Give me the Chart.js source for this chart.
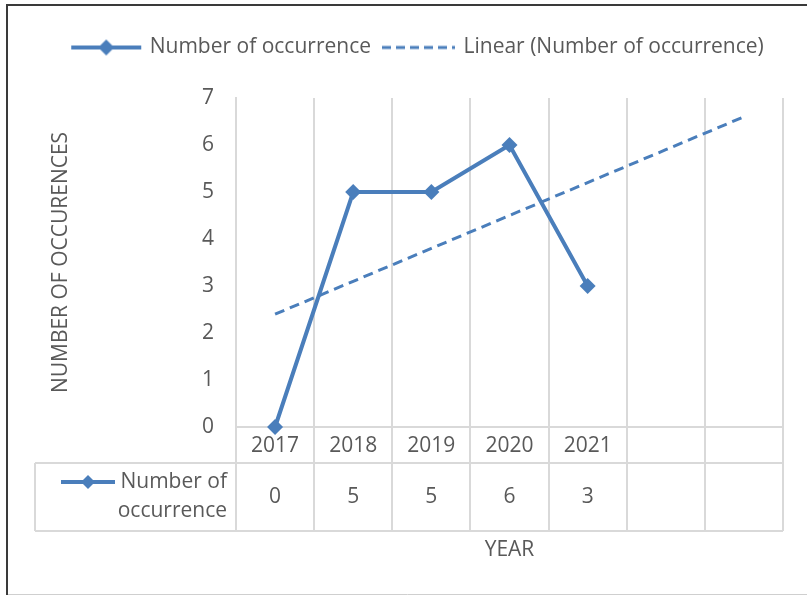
<!DOCTYPE html>
<html lang="en">
<head>
    <meta charset="UTF-8">
    <title>Number of occurrence by year</title>
    <script src="https://cdn.jsdelivr.net/npm/chart.js"></script>
    <style>
        html, body { margin: 0; padding: 0; background: #fff; }
        #wrap { width: 807px; height: 596px; }
    </style>
</head>
<body>
<div id="wrap"><canvas id="chart" width="807" height="596"></canvas></div>

<script>
    // data
    const years = ['2017', '2018', '2019', '2020', '2021', '', ''];
    const occurrences = [0, 5, 5, 6, 3, null, null];
    const trendValues = [2.4, 3.1, 3.8, 4.5, 5.2, 5.9, 6.6];
    const yTicks = [0, 1, 2, 3, 4, 5, 6, 7];
    const seriesName = 'Number of occurrence';
    const trendName = 'Linear (Number of occurrence)';

    const BLUE = '#4a7ebb';
    const TEXT = '#595959';
    const GRID = '#d9d9d9';
    const FONT = "'Open Sans', sans-serif";
    const FSIZE = 21;

    // legend icons (line + diamond, dashed line); drawn towards the right
    // of the canvas so the icon sits close to its text
    function makeIcon(dashed) {
        const c = document.createElement('canvas');
        c.width = 88;
        c.height = 18;
        const g = c.getContext('2d');
        g.strokeStyle = BLUE;
        g.lineWidth = dashed ? 3 : 4;
        if (dashed) g.setLineDash([9, 5]);
        g.beginPath();
        g.moveTo(dashed ? 9 : 12, 9);
        g.lineTo(82, 9);
        g.stroke();
        if (!dashed) {
            g.fillStyle = BLUE;
            g.beginPath();
            g.moveTo(47, 1);
            g.lineTo(55, 9);
            g.lineTo(47, 17);
            g.lineTo(39, 9);
            g.closePath();
            g.fill();
        }
        return c;
    }
    const lineIcon = makeIcon(false);
    const dashIcon = makeIcon(true);

    // small key for the data table
    function makeKey() {
        const c = document.createElement('canvas');
        c.width = 56;
        c.height = 16;
        const g = c.getContext('2d');
        g.strokeStyle = BLUE;
        g.lineWidth = 4;
        g.beginPath();
        g.moveTo(1, 8);
        g.lineTo(55, 8);
        g.stroke();
        g.fillStyle = BLUE;
        g.beginPath();
        g.moveTo(28, 1);
        g.lineTo(35, 8);
        g.lineTo(28, 15);
        g.lineTo(21, 8);
        g.closePath();
        g.fill();
        return c;
    }
    const tableKey = makeKey();

    // frame, data table and extended column borders
    const tablePlugin = {
        id: 'dataTable',
        beforeInit(chart) {
            const fit = chart.legend.fit;
            chart.legend.fit = function () {
                fit.bind(chart.legend)();
                this.height += 30;
            };
        },
        afterDraw(chart) {
            const ctx = chart.ctx;
            const area = chart.chartArea;
            const x = chart.scales.x;
            const labelRowBottom = area.bottom + 36;
            const dataRowBottom = area.bottom + 104;
            const tableLeft = 35;
            const half = (x.getPixelForValue(1) - x.getPixelForValue(0)) / 2;

            ctx.save();
            ctx.strokeStyle = GRID;
            ctx.lineWidth = 2;
            ctx.beginPath();
            // column borders below the plot
            for (let i = 0; i <= years.length; i++) {
                const px = Math.round(x.getPixelForValue(0) - half + i * half * 2);
                ctx.moveTo(px, area.bottom);
                ctx.lineTo(px, dataRowBottom);
            }
            ctx.moveTo(tableLeft, labelRowBottom);
            ctx.lineTo(area.right, labelRowBottom);
            ctx.moveTo(tableLeft, dataRowBottom);
            ctx.lineTo(area.right, dataRowBottom);
            ctx.moveTo(tableLeft, labelRowBottom);
            ctx.lineTo(tableLeft, dataRowBottom);
            ctx.stroke();

            // values row
            ctx.fillStyle = TEXT;
            ctx.font = FSIZE + 'px ' + FONT;
            ctx.textAlign = 'center';
            ctx.textBaseline = 'middle';
            const midY = (labelRowBottom + dataRowBottom) / 2;
            occurrences.forEach((v, i) => {
                if (v === null) return;
                ctx.fillText(String(v), x.getPixelForValue(i), midY);
            });

            // series key in table
            ctx.textAlign = 'right';
            ctx.fillText('Number of', area.left - 9, labelRowBottom + 19);
            ctx.fillText('occurrence', area.left - 9, labelRowBottom + 48);
            ctx.drawImage(tableKey, 60, labelRowBottom + 11);

            // outer frame
            ctx.strokeStyle = '#3a3a3a';
            ctx.lineWidth = 2;
            ctx.beginPath();
            ctx.moveTo(7, 595);
            ctx.lineTo(7, 5);
            ctx.lineTo(807, 5);
            ctx.stroke();
            ctx.strokeStyle = '#cfcfcf';
            ctx.lineWidth = 1;
            ctx.beginPath();
            ctx.moveTo(8, 594.5);
            ctx.lineTo(807, 594.5);
            ctx.stroke();
            ctx.restore();
        }
    };

    new Chart(document.getElementById('chart'), {
        type: 'line',
        data: {
            labels: years,
            datasets: [{
                label: seriesName,
                data: occurrences,
                borderColor: BLUE,
                backgroundColor: BLUE,
                borderWidth: 4,
                pointStyle: 'rectRot',
                pointRadius: 8,
                pointHoverRadius: 8,
                pointBackgroundColor: BLUE,
                pointBorderWidth: 0,
                tension: 0,
                clip: false
            }, {
                label: trendName,
                data: trendValues,
                borderColor: BLUE,
                borderWidth: 3,
                borderDash: [10, 6],
                pointRadius: 0,
                tension: 0
            }]
        },
        options: {
            responsive: false,
            animation: false,
            layout: {
                padding: { top: 27, left: 48, right: 24, bottom: 33 }
            },
            scales: {
                x: {
                    offset: true,
                    grid: {
                        offset: true,
                        color: GRID,
                        lineWidth: 2,
                        drawTicks: false
                    },
                    border: { display: true, color: GRID, width: 2 },
                    ticks: {
                        color: TEXT,
                        font: { family: FONT, size: FSIZE },
                        padding: 6,
                        maxRotation: 0,
                        autoSkip: false
                    },
                    title: {
                        display: true,
                        text: 'YEAR',
                        color: TEXT,
                        font: { family: FONT, size: FSIZE },
                        padding: 0
                    },
                    afterFit(scale) { scale.height = 136; }
                },
                y: {
                    min: 0,
                    max: 7,
                    grid: { display: false, drawTicks: false },
                    border: { display: true, color: GRID, width: 2 },
                    ticks: {
                        stepSize: 1,
                        color: TEXT,
                        font: { family: FONT, size: FSIZE },
                        padding: 22,
                        callback: (v) => yTicks.includes(v) ? v : ''
                    },
                    title: {
                        display: true,
                        text: 'NUMBER OF OCCURENCES',
                        color: TEXT,
                        font: { family: FONT, size: FSIZE },
                        padding: 0
                    },
                    afterFit(scale) { scale.width = 188; }
                }
            },
            plugins: {
                legend: {
                    position: 'top',
                    labels: {
                        color: TEXT,
                        font: { family: FONT, size: FSIZE },
                        usePointStyle: true,
                        pointStyleWidth: 72,
                        padding: 10,
                        generateLabels: (chart) => chart.data.datasets.map((ds, i) => ({
                            text: ds.label,
                            pointStyle: i === 0 ? lineIcon : dashIcon,
                            fontColor: TEXT,
                            lineWidth: 0,
                            strokeStyle: 'transparent',
                            fillStyle: 'transparent',
                            hidden: false,
                            datasetIndex: i
                        }))
                    }
                },
                tooltip: { enabled: false }
            }
        },
        plugins: [tablePlugin]
    });
</script>
</body>
</html>
